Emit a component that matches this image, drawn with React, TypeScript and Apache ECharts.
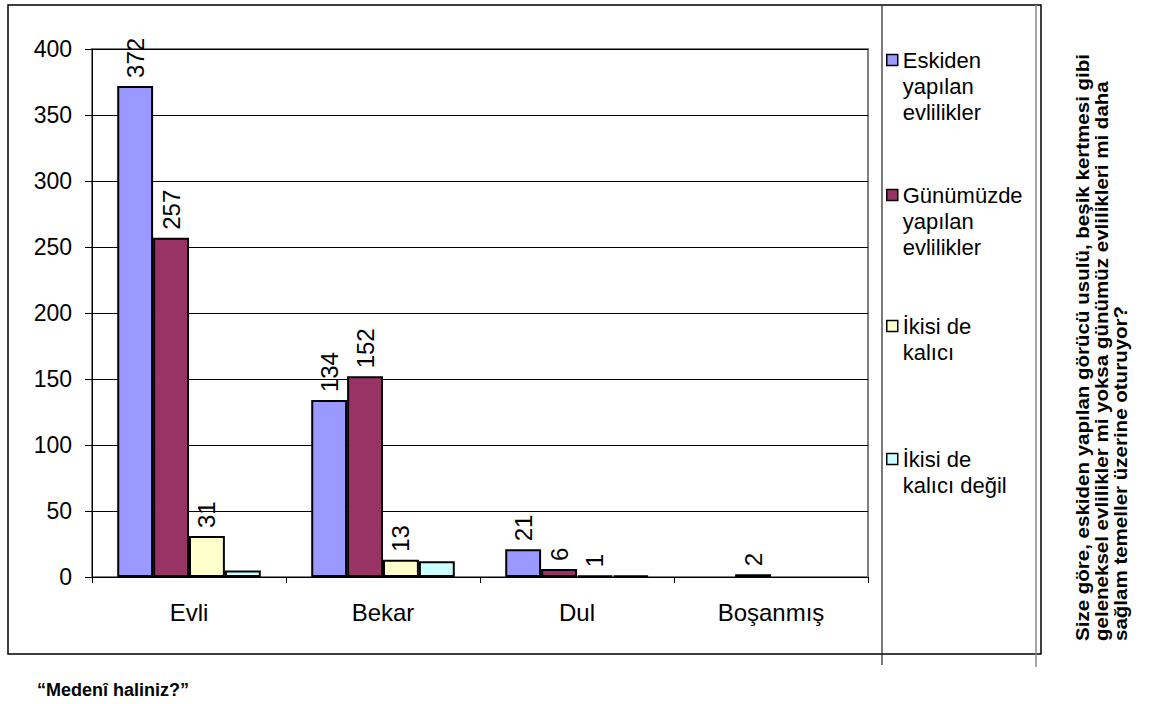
import React, { useEffect, useRef } from "react";
import * as echarts from "echarts";

const categories = ["Evli", "Bekar", "Dul", "Boşanmış"];
const seriesNames = [
  "Eskiden yapılan evlilikler",
  "Günümüzde yapılan evlilikler",
  "İkisi de kalıcı",
  "İkisi de kalıcı değil",
];
const legendLines = [
  ["Eskiden", "yapılan", "evlilikler"],
  ["Günümüzde", "yapılan", "evlilikler"],
  ["İkisi de", "kalıcı"],
  ["İkisi de", "kalıcı değil"],
];
const eskiden = [372, 134, 21, 0];
const gunumuzde = [257, 152, 6, 2];
const ikisiKalici = [31, 13, 1, 0];
const ikisiKaliciDegil = [5, 12, 1, 0];
const seriesValues = [eskiden, gunumuzde, ikisiKalici, ikisiKaliciDegil];
const seriesColors = ["#9999FF", "#993366", "#FFFFCC", "#CCFFFF"];
const showLabels = [true, true, true, false];
const yTicks = [0, 50, 100, 150, 200, 250, 300, 350, 400];
const sideTitle =
  "Size göre, eskiden yapılan görücü usulü, beşik kertmesi gibi\ngeleneksel evlilikler mi yoksa günümüz evlilikleri mi daha\nsağlam temeller üzerine oturuyor?";
const bottomTitle = "“Medenî haliniz?”";

const FONT = 'Arial, "Liberation Sans", sans-serif';
const legendCenters = [60, 195, 326, 459];
const LH = 26;

export default function App() {
  const ref = useRef<HTMLDivElement>(null);
  useEffect(() => {
    document.body.style.margin = "0";
    if (!ref.current) return;
    const chart = echarts.init(ref.current, null, { renderer: "svg" });

    const legends = seriesNames.map((name, i) => {
      const lines = legendLines[i];
      const n = lines.length;
      const total = 2 * n - 1;
      const top = legendCenters[i] - (total * LH) / 2;
      return {
        show: true,
        data: [name],
        orient: "vertical",
        left: 886,
        top,
        padding: 0,
        icon: "rect",
        itemWidth: 11,
        itemHeight: 11,
        itemStyle: { borderColor: "#000", borderWidth: 1.5 },
        selectedMode: false,
        formatter: () => "\n".repeat(n - 1) + lines.join("\n"),
        textStyle: {
          fontFamily: FONT,
          fontSize: 22,
          lineHeight: LH,
          color: "#000",
        },
      };
    });

    const option: any = {
      animation: false,
      backgroundColor: "#fff",
      textStyle: { fontFamily: FONT },
      grid: {
        left: 92,
        right: 297,
        top: 49,
        bottom: 127,
        show: true,
        borderColor: "#808080",
        borderWidth: 2,
        containLabel: false,
      },
      legend: legends,
      xAxis: {
        type: "category",
        data: categories,
        axisLine: { show: true, lineStyle: { color: "#000", width: 1 } },
        axisTick: { show: true, length: 6, lineStyle: { color: "#000" } },
        axisLabel: {
          fontFamily: FONT,
          fontSize: 24,
          color: "#000",
          margin: 23,
        },
        splitLine: { show: false },
      },
      yAxis: {
        type: "value",
        min: 0,
        max: 400,
        interval: 50,
        axisLine: { show: true, lineStyle: { color: "#000", width: 1 } },
        axisTick: { show: true, length: 7, lineStyle: { color: "#000" } },
        axisLabel: {
          fontFamily: FONT,
          fontSize: 23,
          color: "#000",
          margin: 20,
          formatter: (v: number) => (yTicks.includes(v) ? String(v) : ""),
        },
        splitLine: { show: true, lineStyle: { color: "#000", width: 1 } },
      },
      series: seriesNames.map((name, i) => ({
        name,
        type: "bar",
        data: seriesValues[i].map((v) =>
          v === 0 ? { value: v, itemStyle: { borderWidth: 0 } } : v
        ),
        barGap: "0%",
        barCategoryGap: "26%",
        itemStyle: {
          color: seriesColors[i],
          borderColor: "#000",
          borderWidth: 2,
        },
        label: {
          show: showLabels[i],
          position: "top",
          rotate: 90,
          align: "left",
          verticalAlign: "middle",
          distance: 8,
          fontFamily: FONT,
          fontSize: 24,
          color: "#000",
          formatter: (p: any) => (p.value === 0 ? "" : String(p.value)),
        },
      })),
      graphic: [
        {
          type: "rect",
          shape: { x: 8, y: 5, width: 1033, height: 649 },
          style: { fill: "none", stroke: "#000", lineWidth: 1.5 },
          silent: true,
        },
        {
          type: "line",
          shape: { x1: 882, y1: 5, x2: 882, y2: 665 },
          style: { stroke: "#222", lineWidth: 1.2 },
          silent: true,
        },
        {
          type: "line",
          shape: { x1: 1036, y1: 5, x2: 1036, y2: 667 },
          style: { stroke: "#888", lineWidth: 1.5 },
          silent: true,
        },
        {
          type: "text",
          x: 1073,
          y: 641,
          rotation: Math.PI / 2,
          scaleX: 1.08,
          style: {
            text: sideTitle,
            font: `bold 19px ${FONT}`,
            lineHeight: 19,
            fill: "#000",
            align: "left",
            verticalAlign: "top",
          },
          silent: true,
        },
        {
          type: "text",
          x: 37,
          y: 690,
          style: {
            text: bottomTitle,
            font: `bold 18px ${FONT}`,
            fill: "#000",
            align: "left",
            verticalAlign: "middle",
          },
          silent: true,
        },
      ],
    };
    chart.setOption(option);
    return () => chart.dispose();
  }, []);
  return <div ref={ref} style={{ width: 1165, height: 704 }} />;
}
